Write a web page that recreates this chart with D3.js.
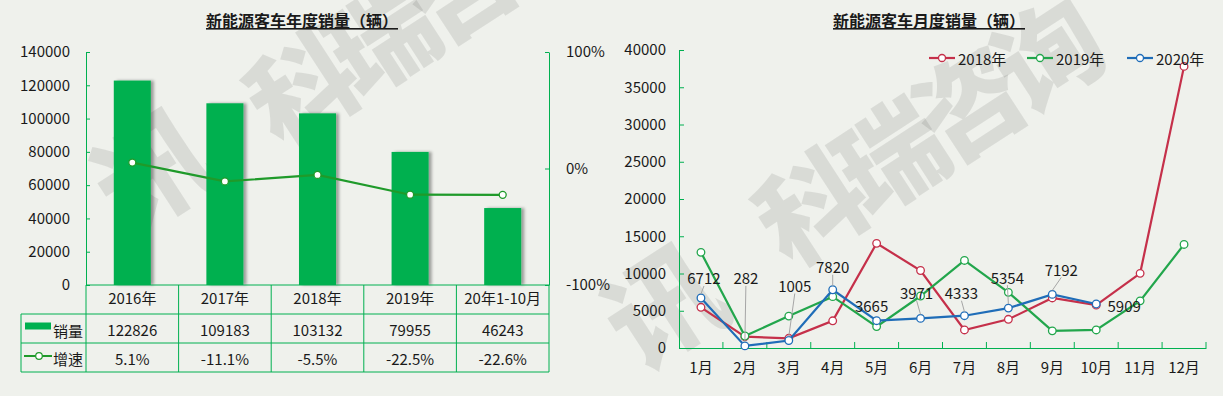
<!DOCTYPE html>
<html>
<head>
<meta charset="utf-8">
<script src="https://cdn.jsdelivr.net/npm/d3@7"></script>
<style>
  body { margin: 0; background: #eff1ec; }
  svg { display: block; font-family: "Noto Sans CJK SC", "Noto Sans", sans-serif; }
</style>
</head>
<body>
<svg id="chart" width="1223" height="396"></svg>
<script>
// 年度数据
var years = ["2016年", "2017年", "2018年", "2019年", "20年1-10月"];
var sales = [122826, 109183, 103132, 79955, 46243];
var growth = [5.1, -11.1, -5.5, -22.5, -22.6];
var barTicks = [0, 20000, 40000, 60000, 80000, 100000, 120000, 140000];
var pctTicks = [-100, 0, 100];

// 月度数据
var months = ["1月", "2月", "3月", "4月", "5月", "6月", "7月", "8月", "9月", "10月", "11月", "12月"];
var sales2018 = [5460, 1520, 1300, 3650, 14050, 10400, 2420, 3850, 6720, 5750, 10020, 37800];
var sales2019 = [12840, 1610, 4280, 6890, 2880, 6980, 11750, 7470, 2300, 2420, 6330, 13900];
var sales2020 = [6712, 282, 1005, 7820, 3665, 3971, 4333, 5354, 7192, 5909];
var monthTicks = [0, 5000, 10000, 15000, 20000, 25000, 30000, 35000, 40000];

var green = "#00b050", lineGreen = "#1f9a2a", textColor = "#1a1a1a";
var fs = 15;
var svg = d3.select("#chart");

// 阴影
var defs = svg.append("defs");
defs.append("filter").attr("id", "shadow").attr("x", "-20%").attr("width", "150%")
  .append("feDropShadow").attr("dx", 3).attr("dy", 0).attr("stdDeviation", 1.8)
  .attr("flood-color", "#000").attr("flood-opacity", 0.35);

// 水印
function watermark(lx, ly, kx, ky) {
  var g = svg.append("g").attr("fill", "#000").attr("fill-opacity", 0.09)
    .attr("font-weight", "900");
  g.append("text").attr("transform", "translate(" + lx + "," + ly + ") rotate(-33)")
    .attr("text-anchor", "middle").attr("dominant-baseline", "central")
    .attr("font-size", 115).text("讯");
  g.append("text").attr("transform", "translate(" + kx + "," + ky + ") rotate(-33)")
    .attr("dominant-baseline", "central")
    .attr("font-size", 106).attr("letter-spacing", -12).text("科瑞咨询");
}
watermark(150, 165, 255, 112);
watermark(660, 300, 764, 231);

// ============ 左图：年度销量 ============
var left = svg.append("g");
left.append("text").attr("x", 302).attr("y", 27).attr("text-anchor", "middle")
  .attr("font-size", 16).attr("font-weight", "bold").attr("fill", textColor)
  .attr("text-decoration", "underline").text("新能源客车年度销量（辆）");

var xBar = d3.scaleBand().domain(years).range([86, 549]).paddingInner(0.6).paddingOuter(0.3);
var xCol = d3.scaleBand().domain(years).range([86, 549]);
var yBar = d3.scaleLinear().domain([0, 140000]).range([285, 52]);
var yPct = d3.scaleLinear().domain([-100, 100]).range([285, 52]);

left.selectAll(".bar").data(sales).enter().append("rect")
  .attr("x", function(d, i) { return xBar(years[i]); })
  .attr("y", function(d) { return yBar(d); })
  .attr("width", xBar.bandwidth())
  .attr("height", function(d) { return yBar(0) - yBar(d); })
  .attr("fill", green).attr("filter", "url(#shadow)");

// 左轴
var axL = left.append("g").attr("transform", "translate(86,0)")
  .call(d3.axisLeft(yBar).tickValues(barTicks).tickSize(-4).tickSizeOuter(0).tickPadding(16)
    .tickFormat(d3.format("d")));
// 右轴
var axR = left.append("g").attr("transform", "translate(549,0)")
  .call(d3.axisRight(yPct).tickValues(pctTicks).tickSize(-4).tickSizeOuter(0).tickPadding(17)
    .tickFormat(function(d) { return d + "%"; }));
[axL, axR].forEach(function(a) {
  a.select(".domain").attr("stroke", green);
  a.selectAll(".tick line").attr("stroke", green);
  a.selectAll("text").attr("font-size", fs).attr("fill", textColor)
    .attr("font-family", "Noto Sans CJK SC");
});

// 增速折线
var growthLine = d3.line()
  .x(function(d, i) { return xCol(years[i]) + xCol.bandwidth() / 2; })
  .y(function(d) { return yPct(d); });
left.append("path").datum(growth).attr("d", growthLine)
  .attr("fill", "none").attr("stroke", lineGreen).attr("stroke-width", 2.2);
left.selectAll(".gdot").data(growth).enter().append("circle")
  .attr("cx", function(d, i) { return xCol(years[i]) + xCol.bandwidth() / 2; })
  .attr("cy", function(d) { return yPct(d); })
  .attr("r", 3.5).attr("fill", "#fff").attr("stroke", lineGreen).attr("stroke-width", 1.3);

// 数据表
var rowY = [285, 314, 343, 372];
var table = left.append("g").attr("stroke", green).attr("stroke-width", 1).attr("fill", "none");
table.append("line").attr("x1", 86).attr("x2", 549).attr("y1", rowY[0]).attr("y2", rowY[0]);
[rowY[1], rowY[2], rowY[3]].forEach(function(y) {
  table.append("line").attr("x1", 21).attr("x2", 549).attr("y1", y).attr("y2", y);
});
years.forEach(function(d) {
  table.append("line").attr("x1", xCol(d)).attr("x2", xCol(d)).attr("y1", rowY[0]).attr("y2", rowY[3]);
});
table.append("line").attr("x1", 549).attr("x2", 549).attr("y1", rowY[0]).attr("y2", rowY[3]);
table.append("line").attr("x1", 21).attr("x2", 21).attr("y1", rowY[1]).attr("y2", rowY[3]);

var hdr = left.append("g").attr("transform", "translate(0," + rowY[0] + ")")
  .call(d3.axisBottom(xCol).tickSize(0).tickPadding(8));
hdr.select(".domain").remove();
hdr.selectAll("text").attr("font-size", fs).attr("fill", textColor).attr("font-family", "Noto Sans CJK SC");

function cellRow(vals, fmt, yc) {
  left.selectAll(null).data(vals).enter().append("text")
    .attr("x", function(d, i) { return xCol(years[i]) + xCol.bandwidth() / 2; })
    .attr("y", yc).attr("text-anchor", "middle").attr("dominant-baseline", "central")
    .attr("font-size", fs).attr("fill", textColor).text(fmt);
}
cellRow(sales, function(d) { return d; }, 329);
cellRow(growth, function(d) { return d + "%"; }, 358);

// 表内图例
left.append("rect").attr("x", 25).attr("y", 322.5).attr("width", 26).attr("height", 7).attr("fill", green);
left.append("text").attr("x", 53).attr("y", 330).attr("dominant-baseline", "central")
  .attr("font-size", fs).attr("fill", textColor).text("销量");
left.append("line").attr("x1", 24).attr("x2", 52).attr("y1", 356).attr("y2", 356)
  .attr("stroke", lineGreen).attr("stroke-width", 2);
left.append("circle").attr("cx", 39).attr("cy", 356).attr("r", 3.3)
  .attr("fill", "#fff").attr("stroke", lineGreen).attr("stroke-width", 1.2);
left.append("text").attr("x", 53).attr("y", 358).attr("dominant-baseline", "central")
  .attr("font-size", fs).attr("fill", textColor).text("增速");

// ============ 右图：月度销量 ============
var right = svg.append("g");
right.append("text").attr("x", 929).attr("y", 27).attr("text-anchor", "middle")
  .attr("font-size", 16).attr("font-weight", "bold").attr("fill", textColor)
  .attr("text-decoration", "underline").text("新能源客车月度销量（辆）");

var xM = d3.scaleBand().domain(months).range([679, 1206]);
var yM = d3.scaleLinear().domain([0, 40000]).range([348, 50]);
var cx = function(d, i) { return xM(months[i]) + xM.bandwidth() / 2; };

var ayM = right.append("g").attr("transform", "translate(679,0)")
  .call(d3.axisLeft(yM).tickValues(monthTicks).tickSize(-5).tickSizeOuter(0).tickPadding(13)
    .tickFormat(d3.format("d")));
var axM = right.append("g").attr("transform", "translate(0,348)")
  .call(d3.axisBottom(xM).tickSize(0).tickPadding(14));
[ayM, axM].forEach(function(a) {
  a.select(".domain").attr("stroke", green);
  a.selectAll(".tick line").attr("stroke", green);
  a.selectAll("text").attr("font-size", fs).attr("fill", textColor)
    .attr("font-family", "Noto Sans CJK SC");
});
right.selectAll(".xtick").data(months).enter().append("line")
  .attr("x1", function(d) { return xM(d) + xM.step(); })
  .attr("x2", function(d) { return xM(d) + xM.step(); })
  .attr("y1", 348).attr("y2", 342).attr("stroke", green);

var seriesList = [
  { name: "2018年", values: sales2018, color: "#c5304a" },
  { name: "2019年", values: sales2019, color: "#22a64c" },
  { name: "2020年", values: sales2020, color: "#1f6db8" }
];
var mLine = d3.line().x(cx).y(function(d) { return yM(d); });

seriesList.forEach(function(s) {
  right.append("path").datum(s.values).attr("d", mLine)
    .attr("fill", "none").attr("stroke", s.color).attr("stroke-width", 2.2);
  right.selectAll(null).data(s.values).enter().append("circle")
    .attr("cx", cx).attr("cy", function(d) { return yM(d); }).attr("r", 3.8)
    .attr("fill", "#fff").attr("stroke", s.color).attr("stroke-width", 1.3);
});

// 2020 数据标签（带引导线）
var labelShift = [[3, -20], [1, -68], [6, -55], [0, -23], [-5, -15], [-4, -26], [-3, -23], [-1, -31], [9, -25], [28, 2]];
sales2020.forEach(function(d, i) {
  var px = cx(d, i), py = yM(d);
  var lx = px + labelShift[i][0], ly = py + labelShift[i][1];
  if (labelShift[i][1] < -18) {
    right.append("line").attr("x1", lx).attr("y1", ly + 8).attr("x2", px).attr("y2", py - 4)
      .attr("stroke", "#a6a6a6").attr("stroke-width", 1);
  }
  right.append("text").attr("x", lx).attr("y", ly).attr("text-anchor", "middle")
    .attr("dominant-baseline", "central").attr("font-size", fs).attr("fill", textColor).text(d);
});

// 图例
var legX = [929, 1027, 1127];
seriesList.forEach(function(s, i) {
  var g = right.append("g").attr("transform", "translate(" + legX[i] + ",58)");
  g.append("line").attr("x1", 0).attr("x2", 26).attr("stroke", s.color).attr("stroke-width", 2.2);
  g.append("circle").attr("cx", 13).attr("r", 3.5).attr("fill", "#fff")
    .attr("stroke", s.color).attr("stroke-width", 1.3);
  g.append("text").attr("x", 29).attr("dominant-baseline", "central")
    .attr("font-size", fs).attr("fill", textColor).text(s.name);
});
</script>
</body>
</html>
